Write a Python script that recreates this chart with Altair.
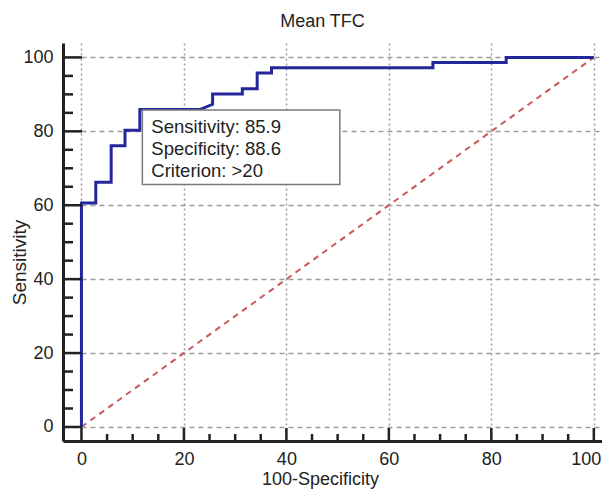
import altair as alt
import pandas as pd

# ROC curve vertices (100-Specificity, Sensitivity)
fpr = [0, 0, 2.8, 2.8, 5.8, 5.8, 8.5, 8.5, 11.4, 11.4, 23.1, 25.6, 25.6, 31.4, 31.4,
       34.3, 34.3, 37.1, 37.1, 68.6, 68.6, 82.9, 82.9, 100]
tpr = [0, 60.6, 60.6, 66.2, 66.2, 76.1, 76.1, 80.3, 80.3, 85.9, 85.9, 87.3, 90.1, 90.1,
       91.5, 91.5, 95.8, 95.8, 97.2, 97.2, 98.6, 98.6, 100, 100]

# reference diagonal
diag_x = [0, 100]
diag_y = [0, 100]

# optimal cut-off point and its annotation
cut_fpr = [11.4]
cut_tpr = [85.9]
cut_lines = ["Sensitivity: 85.9", "Specificity: 88.6", "Criterion: >20"]

# axis ticks
major_ticks = [0, 20, 40, 60, 80, 100]
minor_ticks = [v for v in range(0, 101, 5) if v % 20 != 0]

FONT = "Liberation Sans"
INK = "#222222"

roc_df = pd.DataFrame({"fpr": fpr, "tpr": tpr, "order": list(range(len(fpr)))})
diag_df = pd.DataFrame({"fpr": diag_x, "tpr": diag_y})
cut_df = pd.DataFrame({"fpr": cut_fpr, "tpr": cut_tpr, "label": ["\n".join(cut_lines)]})
major_df = pd.DataFrame({"v": major_ticks})
minor_df = pd.DataFrame({"v": minor_ticks})

xs = alt.Scale(domain=[-3.6, 101.6], nice=False, zero=False)
ys = alt.Scale(domain=[-3.8, 103.9], nice=False, zero=False)

x_axis = alt.Axis(
    values=major_ticks, format="d", title="100-Specificity",
    grid=True, gridDash=[2, 3], gridColor="#9c9c9c", gridWidth=1.5,
    ticks=False, tickSize=0, domainColor=INK, domainWidth=3,
    labelFont=FONT, labelFontSize=18, labelColor=INK, labelPadding=9,
    labelOffset=alt.ExprRef(expr="datum.value == 100 ? -8 : 0"),
    titleFont=FONT, titleFontSize=18, titleFontWeight="normal", titleColor=INK,
    titleX=257, titleY=43, titleBaseline="alphabetic", titleAlign="center",
)
y_axis = alt.Axis(
    values=major_ticks, format="d", title="Sensitivity",
    grid=True, gridDash=[5, 4], gridColor="#9c9c9c", gridWidth=1.5,
    ticks=False, tickSize=0, domainColor=INK, domainWidth=3,
    labelFont=FONT, labelFontSize=18, labelColor=INK, labelPadding=10,
    titleFont=FONT, titleFontSize=19, titleFontWeight="normal", titleColor=INK,
    titleAngle=270, titleX=-38, titleY=219, titleBaseline="alphabetic", titleAlign="center",
)

diag = alt.Chart(diag_df).mark_line(color="#c8585a", strokeDash=[6, 5], strokeWidth=2).encode(
    x=alt.X("fpr:Q", scale=xs, axis=x_axis),
    y=alt.Y("tpr:Q", scale=ys, axis=y_axis),
)

roc = alt.Chart(roc_df).mark_line(color="#24279c", strokeWidth=3).encode(
    x=alt.X("fpr:Q", scale=xs),
    y=alt.Y("tpr:Q", scale=ys),
    order="order:Q",
)

box = alt.Chart(cut_df).mark_rect(
    fill="white", stroke="#7a7a7a", strokeWidth=1.5,
    xOffset=2.5, x2Offset=200, yOffset=0.4, y2Offset=75,
).encode(
    x=alt.X("fpr:Q", scale=xs), x2="fpr:Q",
    y=alt.Y("tpr:Q", scale=ys), y2="tpr:Q",
)

txt = alt.Chart(cut_df).mark_text(
    align="left", baseline="alphabetic", dx=11.5, dy=23.7,
    font=FONT, fontSize=18.5, lineHeight=21.7, color=INK, lineBreak="\n",
).encode(
    x=alt.X("fpr:Q", scale=xs),
    y=alt.Y("tpr:Q", scale=ys),
    text="label:N",
)

xmaj = alt.Chart(major_df).mark_rule(color=INK, strokeWidth=2.5).encode(
    x=alt.X("v:Q", scale=xs), y=alt.value(398), y2=alt.value(385))
xmin = alt.Chart(minor_df).mark_rule(color=INK, strokeWidth=2.5).encode(
    x=alt.X("v:Q", scale=xs), y=alt.value(398), y2=alt.value(391))
ymaj = alt.Chart(major_df).mark_rule(color=INK, strokeWidth=2.5).encode(
    y=alt.Y("v:Q", scale=ys), x=alt.value(0), x2=alt.value(19))
ymin = alt.Chart(minor_df).mark_rule(color=INK, strokeWidth=2.5).encode(
    y=alt.Y("v:Q", scale=ys), x=alt.value(0), x2=alt.value(10))

chart = alt.layer(diag, roc, box, txt, xmaj, xmin, ymaj, ymin).properties(
    width=539, height=398,
    padding={"left": 55, "top": 35, "right": 0, "bottom": 49},
    autosize=alt.AutoSizeParams(type="none"),
    title=alt.TitleParams(
        "Mean TFC", font=FONT, fontSize=18, fontWeight="normal", color=INK,
        anchor="middle", frame="group", dx=-10, dy=14, offset=12, baseline="alphabetic",
    ),
).configure_view(stroke=None)

chart.save("out.html", embed_options={"renderer": "svg", "actions": False})
